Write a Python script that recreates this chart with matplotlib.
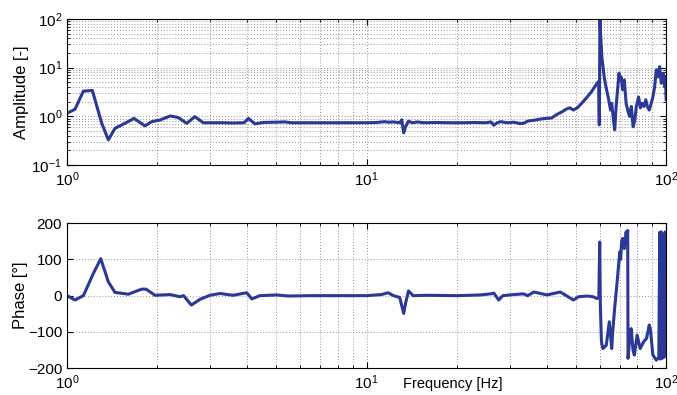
import numpy as np
import matplotlib
matplotlib.use("Agg")
import matplotlib.pyplot as plt
from matplotlib.ticker import LogLocator, NullFormatter, MultipleLocator

plt.rcParams['font.family'] = ['Liberation Sans', 'DejaVu Sans']
plt.rcParams['mathtext.default'] = 'regular'

amp_freq = [1.00, 1.063, 1.134, 1.215, 1.306, 1.374, 1.446, 1.561, 1.673, 1.82, 1.918, 2.04,
            2.21, 2.35, 2.51, 2.67, 2.85, 3.0, 3.3, 3.6, 3.9, 4.03, 4.24, 4.51, 4.9, 5.34,
            5.6, 6.2, 7.0, 8.1, 9.0, 10.0, 10.8, 11.5, 11.8, 12.3, 12.9, 13.1, 13.3, 13.5,
            13.8, 14.2, 14.8, 15.5, 17, 19, 21, 23, 25, 26.0, 26.6, 27.2, 28.0, 29.5, 31,
            32.5, 33.4, 34.5, 36, 38, 40, 41.5, 43.2, 45, 46.5, 47.7, 49, 50.5, 52, 54.5,
            56.5, 58.8, 59.5, 59.8, 60.1, 60.3, 61, 62, 62.6, 64.3, 65.2, 65.8, 66.5, 67.3,
            68.2, 69.6, 70.2, 70.7, 71.6, 72.5, 73.5, 74.5, 75.5, 76.5, 77.6, 78.6, 79.5,
            80.9, 82, 83.1, 84.3, 85.5, 86.5, 87.8, 89, 90.3, 91.5, 92.7, 93.9, 95.1, 96.3,
            97.6, 98.8, 99.4, 100]
amp_vals = [1.16, 1.40, 3.3, 3.4, 0.72, 0.33, 0.57, 0.72, 0.91, 0.64, 0.78, 0.84,
            1.02, 0.95, 0.72, 0.99, 0.74, 0.74, 0.74, 0.73, 0.74, 0.91, 0.70, 0.75, 0.76, 0.77,
            0.74, 0.74, 0.74, 0.74, 0.74, 0.74, 0.75, 0.78, 0.76, 0.77, 0.74, 0.85, 0.46, 0.62,
            0.80, 0.74, 0.77, 0.74, 0.75, 0.74, 0.74, 0.75, 0.74, 0.77, 0.66, 0.73, 0.78, 0.74, 0.76,
            0.71, 0.72, 0.80, 0.83, 0.88, 0.91, 0.93, 1.1, 1.25, 1.42, 1.5, 1.35, 1.5, 1.8, 2.5,
            3.3, 4.8, 5.2, 0.67, 100, 60, 16.8, 7, 4.8, 2.2, 1.35, 1.85, 1.0, 0.53,
            1.85, 7.7, 5.5, 6.5, 3.5, 5.6, 1.85, 1.3, 1.0, 1.6, 0.61, 0.85, 1.6,
            2.5, 1.5, 1.85, 1.6, 2.2, 1.6, 1.35, 1.8, 2.5, 4, 9, 6.5, 10.5, 4.8,
            7.7, 4.1, 6.5, 2.2]

phase_freq = [1.00, 1.063, 1.134, 1.224, 1.296, 1.374, 1.446, 1.603, 1.775, 1.835, 1.967, 2.21,
              2.38, 2.45, 2.60, 2.78, 3.0, 3.24, 3.58, 3.98, 4.14, 4.4, 5.0, 5.5, 6.5, 8, 10,
              11.2, 11.8, 12.3, 12.9, 13.3, 13.5, 13.8, 14.3, 16, 20, 24, 26, 26.6, 27.6, 28.5,
              31, 33.4, 34.5, 36.2, 40, 44.3, 46, 49, 51, 54.5, 57, 58.8, 59.6, 60.0, 60.3,
              60.8, 61.5, 63.1, 64.6, 65.8, 66.3, 67.3, 68.6, 70.0, 70.5, 71.0, 71.6, 72.5,
              73.5, 74.0, 74.4, 74.6, 75.5, 76.4, 77.5, 78.3, 80.0, 81.9, 84.1, 86, 87.8, 88.5,
              90.3, 92.7, 94.5, 95.2, 95.6, 96.3, 97.0, 97.6, 98.4, 99.2, 100]
phase_vals = [0, -12, 0, 61, 102, 38, 9, 4, 18, 18, 1, 3,
              -3, 0, -26, -10, 1, 6, 1, 8, -9, 0, 2, -1, 0, 0, 0,
              3, 8, 0, -5, -49, -20, 13, 0, 1, 0, 2, 5, 7, -12, 0,
              3, 5, 0, 10, 2, 10, 2, -12, -3, -1, -3, -8, -5, 148, -26,
              -127, -146, -137, -72, -146, -100, -35, 38, 121, 100, 150, 158, 130,
              176, 160, 180, -173, -120, -91, -150, -164, -109, -146, -127, -118, -81, -91,
              -164, -178, -170, 175, -175, 176, -173, 170, -170, 176, 170]

line_color = '#2b3896'

fig = plt.figure(figsize=(6.77, 3.95), dpi=100)
ax1 = fig.add_axes([0.099, 0.582, 0.885, 0.370])
ax2 = fig.add_axes([0.099, 0.068, 0.885, 0.367])

grid_kw = dict(color='0.45', linestyle=(0, (1, 2.5)), linewidth=0.6)

for ax in (ax1, ax2):
    ax.set_xscale('log')
    ax.set_xlim(1, 100)
    ax.tick_params(which='both', direction='in', top=True, right=True, labelsize=11)
    ax.tick_params(which='major', length=4)
    ax.tick_params(which='minor', length=2)
    ax.xaxis.set_major_locator(LogLocator(base=10, numticks=10))
    ax.xaxis.set_minor_locator(LogLocator(base=10, subs=np.arange(2, 10), numticks=20))
    ax.xaxis.set_minor_formatter(NullFormatter())
    for s in ax.spines.values():
        s.set_linewidth(0.8)

ax1.plot(amp_freq, amp_vals, color=line_color, lw=2.2)
ax1.set_yscale('log')
ax1.set_ylim(0.1, 100)
ax1.yaxis.set_minor_locator(LogLocator(base=10, subs=np.arange(2, 10), numticks=20))
ax1.yaxis.set_minor_formatter(NullFormatter())
ax1.grid(True, which='both', axis='both', **grid_kw)
ax1.set_ylabel('Amplitude [-]', fontsize=12, labelpad=2)

ax2.plot(phase_freq, phase_vals, color=line_color, lw=2.2)
ax2.set_ylim(-200, 200)
ax2.yaxis.set_major_locator(MultipleLocator(100))
ax2.grid(True, which='major', axis='y', **grid_kw)
ax2.grid(True, which='both', axis='x', **grid_kw)
ax2.set_ylabel('Phase [°]', fontsize=12, labelpad=0)
ax2.set_xlabel('Frequency [Hz]', fontsize=10.5)
ax2.xaxis.set_label_coords(0.643, -0.058)
ax2.xaxis.label.set_verticalalignment('top')

fig.savefig('out.png', dpi=100)
